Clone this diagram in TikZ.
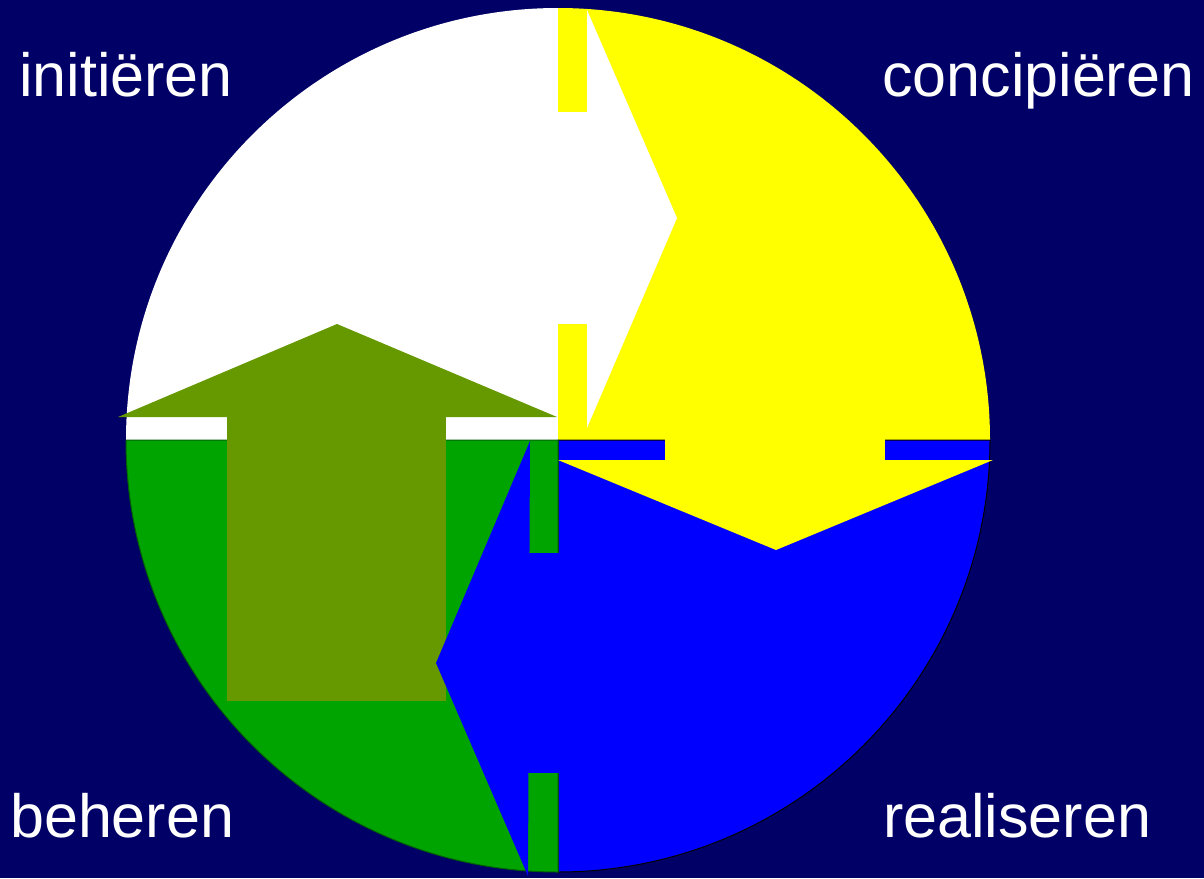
\documentclass[tikz,border=0pt]{standalone}
\usepackage{fontspec}
\setmainfont{Liberation Sans}
\usepackage{xcolor}
\usetikzlibrary{positioning}
\definecolor{navy}{RGB}{0,0,102}
\definecolor{phaseyellow}{RGB}{255,255,0}
\definecolor{phaseblue}{RGB}{0,0,255}
\definecolor{phasegreen}{RGB}{0,164,0}
\definecolor{phaseolive}{RGB}{102,153,0}

\begin{document}
\begin{tikzpicture}[
  x=1pt, y=-1pt,
  phase/.style={font=\fontsize{61}{61}\selectfont, text=white, anchor=base west, inner sep=0pt},
  whitepart/.style={fill=white},
  yellowpart/.style={fill=phaseyellow},
  bluepart/.style={fill=phaseblue},
  greenpart/.style={fill=phasegreen},
  olivepart/.style={fill=phaseolive},
]
\useasboundingbox (0,0) rectangle (1204,878);
\fill[navy] (0,0) rectangle (1204,878);

\coordinate (hub) at (558,440);

\fill[whitepart] (hub) -- ++(-432,0) arc[start angle=180, end angle=270, radius=432] -- cycle;
\fill[yellowpart] (hub) -- ++(432,0) arc[start angle=0, end angle=-90, radius=432] -- cycle;
\filldraw[bluepart, draw=black, line width=1pt] (hub) -- ++(432,0) arc[start angle=0, end angle=90, radius=432] -- cycle;
\filldraw[greenpart, draw=phasegreen!60!black, line width=1pt] (hub) -- ++(-432,0) arc[start angle=180, end angle=90, radius=432] -- cycle;

\fill[yellowpart] (665,439) rectangle (885,461);
\fill[yellowpart] (558,460) -- (776,550) -- (993,460) -- cycle;

\fill[whitepart] (557,112) rectangle (588,324);
\fill[whitepart] (587,10) -- (677,218) -- (587,428) -- cycle;

\fill[olivepart] (227,416) rectangle (446,701);
\fill[olivepart] (118,417) -- (337,324) -- (557,417) -- cycle;

\fill[bluepart] (526,553) rectangle (559,773);
\fill[bluepart] (530,441) -- (436,663) -- (528,876) -- cycle;

\node[phase] (init) at (19,96) {initiëren};
\node[phase] (conc) at (882,96) {concipiëren};
\node[phase] (beh) at (10,837) {beheren};
\node[phase] (real) at (883,837) {realiseren};

\end{tikzpicture}
\end{document}
